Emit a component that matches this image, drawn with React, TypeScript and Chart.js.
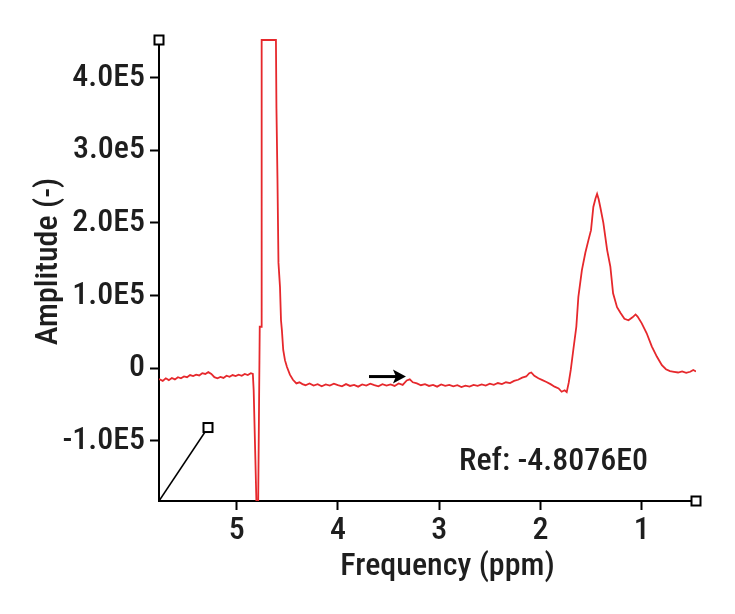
import React, { useEffect, useRef } from "react";
import { Chart, registerables } from "chart.js";

Chart.register(...registerables);

// ---- data ----
const PPM = [
  5.767, 5.73, 5.7, 5.67, 5.64, 5.61, 5.58, 5.55, 5.52, 5.49, 5.46, 5.43, 5.4, 5.37, 5.34, 5.31, 5.28, 5.25,
  5.22, 5.19, 5.16, 5.13, 5.1, 5.07, 5.04, 5.01, 4.98, 4.95, 4.92, 4.89, 4.86, 4.84, 4.832, 4.815, 4.792,
  4.772, 4.757, 4.753, 4.7, 4.65, 4.612, 4.607, 4.597, 4.587, 4.572, 4.562, 4.553, 4.54, 4.523, 4.503, 4.474,
  4.444, 4.41, 4.38, 4.35,
  4.32, 4.28, 4.24, 4.2, 4.16, 4.12, 4.08, 4.04, 4.0, 3.96, 3.92, 3.88, 3.84, 3.8, 3.76, 3.72, 3.68, 3.64,
  3.6, 3.56, 3.52, 3.48, 3.44, 3.4, 3.36, 3.32, 3.29, 3.26, 3.22, 3.18, 3.14, 3.1, 3.06, 3.02, 2.98, 2.94,
  2.9, 2.86, 2.82, 2.78, 2.74, 2.7, 2.66, 2.62, 2.58, 2.54, 2.5, 2.46, 2.42, 2.38, 2.34, 2.3, 2.26, 2.22,
  2.18, 2.14, 2.11, 2.09, 2.06, 2.02, 1.98, 1.94, 1.9, 1.86, 1.82, 1.79, 1.76, 1.74, 1.72, 1.7, 1.675,
  1.645, 1.625, 1.59, 1.556, 1.526, 1.5, 1.477, 1.455, 1.44, 1.425, 1.407, 1.378, 1.341, 1.309, 1.282,
  1.243, 1.208, 1.17, 1.13, 1.09, 1.06, 1.04, 1.0, 0.95, 0.9, 0.85, 0.8, 0.76, 0.72, 0.68, 0.64, 0.6,
  0.56, 0.52, 0.49, 0.463,
];

const AMPLITUDE = [
  -15000, -17500, -14000, -16500, -13500, -15500, -12500, -14000, -11500, -12500, -9500, -11000, -9000,
  -10000, -7000, -8000, -5500, -8000, -12500, -14000, -12000, -13500, -10500, -12000, -9500, -11000, -9000,
  -10500, -8000, -9500, -7000, -8000, -30000, -126000, -260000,
  57000, 57000, 452000, 452000, 452000, 452000, 358000, 262000, 145000, 112000, 66000, 52000, 25000, 11000,
  1500, -9000, -16000, -21000, -19500, -22000,
  -23500, -21000, -24000, -22000, -25000, -22500, -24000, -21500, -23500, -25000, -22000, -24500, -23000,
  -25500, -22500, -24000, -21500, -23500, -25000, -22000, -24000, -22500, -24500, -21000, -23000, -17000,
  -15500, -19500, -21000, -23500, -22000, -24500, -23000, -25500, -22500, -24500, -23000, -25000, -23500,
  -26000, -24000, -25500, -23000, -24500, -22500, -24000, -21500, -23000, -20500, -22000, -19500, -20500,
  -17500, -16000, -13000, -11500, -7000, -6000, -10500, -14000, -16500, -19000, -22000, -25500, -28000,
  -32500, -30500, -33000, -20000, -2500, 25000,
  57000, 98000, 135000, 159000, 176000, 190000, 222000, 234000, 240000, 233000, 221000, 200000, 163000,
  140000, 103000, 84000, 76000, 68000, 66000, 70000, 74000, 71000, 62000, 48000, 30000, 16000, 4000,
  -1500, -4000, -5000, -6000, -4500, -6500, -5000, -2500, -4500,
];

const X_TICKS = [5, 4, 3, 2, 1];
const X_TICK_LABELS = ["5", "4", "3", "2", "1"];
const Y_TICKS = [-100000, 0, 100000, 200000, 300000, 400000];
const Y_TICK_LABELS = ["-1.0E5", "0", "1.0E5", "2.0E5", "3.0e5", "4.0E5"];

const X_MIN = 0.463;
const X_MAX = 5.767;
const Y_MIN = -183000;
const Y_MAX = 452000;

const X_TITLE = "Frequency (ppm)";
const Y_TITLE = "Amplitude (-)";
const REF_TEXT = "Ref: -4.8076E0";

// annotation anchors (data units)
const ARROW_FROM_PPM = 3.693;
const ARROW_TO_PPM = 3.328;
const ARROW_AMP = -11600;
const DIAG_END_PPM = 5.283;
const DIAG_END_AMP = -81800;

const FONT_FAMILY = "'Roboto Condensed', 'Liberation Sans Narrow', 'DejaVu Sans Condensed', sans-serif";
const FONT_SIZE = 32;
const FONT_WEIGHT = "500";
const TEXT_COLOR = "#1e1e1e";
const LINE_COLOR = "rgb(230, 40, 44)";

const decorations = {
  id: "decorations",
  afterDraw(chart: any) {
    const { ctx, chartArea, scales } = chart;
    const xs = scales.x;
    const ys = scales.y;
    ctx.save();

    // diagonal marker
    const dx = xs.getPixelForValue(DIAG_END_PPM);
    const dy = ys.getPixelForValue(DIAG_END_AMP);
    ctx.strokeStyle = "#000";
    ctx.lineWidth = 1.5;
    ctx.beginPath();
    ctx.moveTo(chartArea.left, chartArea.bottom);
    ctx.lineTo(dx, dy);
    ctx.stroke();

    const square = (cx: number, cy: number) => {
      const s = 9;
      ctx.fillStyle = "#fff";
      ctx.fillRect(cx - s / 2, cy - s / 2, s, s);
      ctx.lineWidth = 2;
      ctx.strokeStyle = "#000";
      ctx.strokeRect(cx - s / 2, cy - s / 2, s, s);
    };
    square(chartArea.left, chartArea.top);
    square(chartArea.right, chartArea.bottom);
    square(dx, dy);

    // arrow
    const ax1 = xs.getPixelForValue(ARROW_FROM_PPM);
    const ax2 = xs.getPixelForValue(ARROW_TO_PPM);
    const ay = ys.getPixelForValue(ARROW_AMP);
    ctx.strokeStyle = "#000";
    ctx.fillStyle = "#000";
    ctx.lineWidth = 3;
    ctx.beginPath();
    ctx.moveTo(ax1, ay);
    ctx.lineTo(ax2 - 8, ay);
    ctx.stroke();
    ctx.beginPath();
    ctx.moveTo(ax2, ay);
    ctx.lineTo(ax2 - 13, ay - 7);
    ctx.lineTo(ax2 - 10, ay);
    ctx.lineTo(ax2 - 13, ay + 7);
    ctx.closePath();
    ctx.fill();

    // texts
    ctx.fillStyle = TEXT_COLOR;
    ctx.font = `${FONT_WEIGHT} ${FONT_SIZE}px ${FONT_FAMILY}`;
    ctx.textBaseline = "alphabetic";
    ctx.textAlign = "right";
    ctx.fillText(REF_TEXT, chartArea.right - 48, chartArea.bottom - 31);

    ctx.textAlign = "center";
    ctx.fillText(X_TITLE, (chartArea.left + chartArea.right) / 2 + 20, chartArea.bottom + 74);

    ctx.translate(57, (chartArea.top + chartArea.bottom) / 2 - 9);
    ctx.rotate(-Math.PI / 2);
    ctx.fillText(Y_TITLE, 0, 0);
    ctx.restore();
  },
};

export default function App() {
  const canvasRef = useRef<HTMLCanvasElement | null>(null);

  useEffect(() => {
    document.body.style.margin = "0";
    const canvas = canvasRef.current;
    if (!canvas) return;
    const points = PPM.map((p, i) => ({ x: p, y: AMPLITUDE[i] }));
    const tickFont = { family: FONT_FAMILY, size: FONT_SIZE, weight: FONT_WEIGHT as any };
    const chart = new Chart(canvas, {
      type: "line",
      data: {
        datasets: [
          {
            data: points,
            borderColor: LINE_COLOR,
            borderWidth: 1.8,
            pointRadius: 0,
            tension: 0,
            fill: false,
            clip: { left: 0, top: 3, right: 0, bottom: 0 } as any,
          },
        ],
      },
      options: {
        responsive: false,
        animation: false,
        events: [],
        layout: { padding: { left: 0, top: 40, right: 39, bottom: 0 } },
        plugins: { legend: { display: false }, tooltip: { enabled: false }, title: { display: false } },
        scales: {
          x: {
            type: "linear",
            reverse: true,
            min: X_MIN,
            max: X_MAX,
            afterBuildTicks: (scale: any) => {
              scale.ticks = X_TICKS.map((v) => ({ value: v }));
            },
            afterFit: (scale: any) => {
              scale.height = 113;
            },
            ticks: {
              autoSkip: false,
              maxRotation: 0,
              padding: 2,
              color: TEXT_COLOR,
              font: tickFont,
              callback: (v: any) => {
                const i = X_TICKS.indexOf(Number(v));
                return i >= 0 ? X_TICK_LABELS[i] : "";
              },
            },
            grid: {
              display: true,
              drawOnChartArea: false,
              drawTicks: true,
              tickLength: 9,
              tickWidth: 2,
              tickColor: "#000",
            },
            border: { display: true, color: "#000", width: 2 },
          },
          y: {
            type: "linear",
            min: Y_MIN,
            max: Y_MAX,
            afterBuildTicks: (scale: any) => {
              scale.ticks = Y_TICKS.map((v) => ({ value: v }));
            },
            afterFit: (scale: any) => {
              scale.width = 159;
            },
            ticks: {
              autoSkip: false,
              padding: 5,
              color: TEXT_COLOR,
              font: tickFont,
              callback: (v: any) => {
                const i = Y_TICKS.indexOf(Number(v));
                return i >= 0 ? Y_TICK_LABELS[i] : "";
              },
            },
            grid: {
              display: true,
              drawOnChartArea: false,
              drawTicks: true,
              tickLength: 9,
              tickWidth: 2,
              tickColor: "#000",
            },
            border: { display: true, color: "#000", width: 2 },
          },
        },
      },
      plugins: [decorations],
    });
    return () => chart.destroy();
  }, []);

  return (
    <div style={{ position: "absolute", left: 0, top: 0, width: 735, height: 614, background: "#fff" }}>
      <canvas ref={canvasRef} width={735} height={614} style={{ display: "block" }} />
    </div>
  );
}
